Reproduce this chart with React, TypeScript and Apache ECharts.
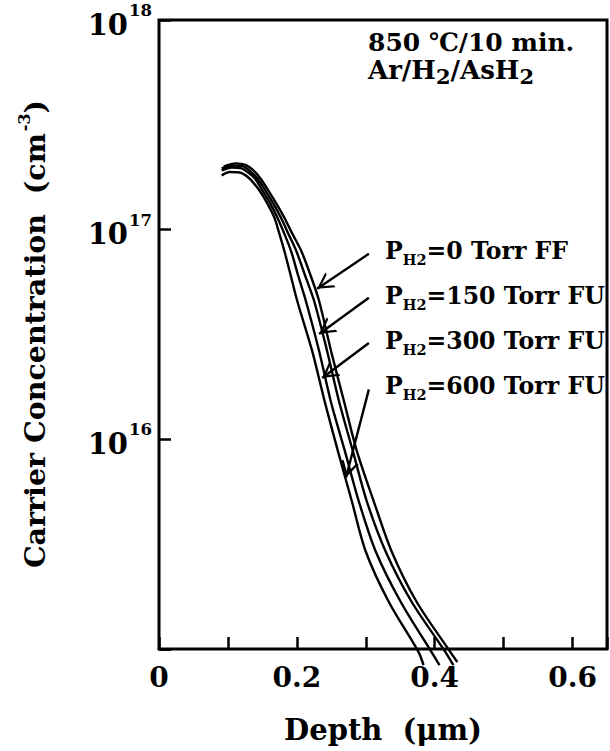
import React, { useEffect, useRef } from "react";
import * as echarts from "echarts";

const SERIF = '"DejaVu Serif", "Liberation Serif", serif';

// Axis tick labels
const depthTickLabels = ["0", "0.2", "0.4", "0.6"];
const decadeExponents = [16, 17, 18];

// Growth conditions of the four samples
const hydrogenPressures = [0, 150, 300, 600];
const treatmentCodes = ["FF", "FU", "FU", "FU"];

// Carrier profiles: [depth (µm), concentration (cm^-3)]
const profileP0: [number, number][] = [
  [0.0938, 2.0e17], [0.1111, 2.07e17], [0.1255, 2.035e17], [0.1371, 1.916e17],
  [0.1472, 1.754e17], [0.1587, 1.537e17], [0.1703, 1.332e17], [0.1818, 1.142e17],
  [0.1934, 9.57e16], [0.2063, 7.93e16], [0.2201, 6.03e16], [0.2323, 4.57e16],
  [0.2496, 2.64e16], [0.2684, 1.52e16], [0.2872, 8.76e15], [0.3117, 5.05e15],
  [0.3377, 2.91e15], [0.3737, 1.68e15], [0.4228, 9.67e14], [0.4329, 8.67e14],
];
const profileP150: [number, number][] = [
  [0.0909, 1.958e17], [0.1082, 2.024e17], [0.1227, 2.002e17], [0.1342, 1.874e17],
  [0.1429, 1.754e17], [0.1544, 1.537e17], [0.1659, 1.332e17], [0.1768, 1.142e17],
  [0.1876, 9.57e16], [0.1991, 7.93e16], [0.2121, 6.03e16], [0.2251, 4.57e16],
  [0.2439, 2.64e16], [0.2612, 1.52e16], [0.2814, 8.76e15], [0.3016, 5.05e15],
  [0.329, 2.91e15], [0.3665, 1.68e15], [0.4156, 9.67e14], [0.4271, 8.38e14],
];
const profileP300: [number, number][] = [
  [0.0909, 1.916e17], [0.1053, 1.98e17], [0.1198, 1.958e17], [0.1313, 1.853e17],
  [0.1392, 1.754e17], [0.1501, 1.537e17], [0.1616, 1.332e17], [0.1717, 1.142e17],
  [0.1818, 9.57e16], [0.1915, 7.93e16], [0.202, 6.03e16], [0.2131, 4.57e16],
  [0.2323, 2.64e16], [0.2492, 1.52e16], [0.2698, 8.76e15], [0.29, 5.05e15],
  [0.3146, 2.91e15], [0.3506, 1.68e15], [0.3954, 9.67e14], [0.4069, 8.38e14],
];
const profileP600: [number, number][] = [
  [0.0909, 1.813e17], [0.1025, 1.884e17], [0.1169, 1.874e17], [0.1313, 1.754e17],
  [0.1457, 1.537e17], [0.1573, 1.332e17], [0.1674, 1.142e17], [0.1746, 9.57e16],
  [0.1818, 7.93e16], [0.1912, 6.03e16], [0.2006, 4.57e16], [0.2222, 2.64e16],
  [0.2403, 1.52e16], [0.2597, 8.76e15], [0.2799, 5.05e15], [0.3001, 2.91e15],
  [0.3333, 1.68e15], [0.3766, 9.67e14], [0.3838, 8.38e14],
];

// Pointer arrows: [fromDepth, fromConc, toDepth, toConc]
const arrowPointers: [number, number, number, number][] = [
  [0.3045, 7.67e16, 0.2294, 5.22e16],
  [0.3045, 4.73e16, 0.2323, 3.18e16],
  [0.3045, 2.88e16, 0.2367, 1.96e16],
  [0.3045, 1.73e16, 0.2713, 6.58e15],
];

// Open chevron arrow head, tip placed at the symbol centre
const OPEN_ARROW =
  "path://M50,-100 M50,0 L100,100 L86,100 L50,28 L14,100 L0,100 Z";

export default function App() {
  const ref = useRef<HTMLDivElement>(null);

  useEffect(() => {
    const chart = echarts.init(ref.current!, null, { renderer: "svg" });
    const profiles = [profileP0, profileP150, profileP300, profileP600];

    const bold = { fontFamily: SERIF, fontWeight: "bold" as const, fill: "#000" };

    const pressureLabels = hydrogenPressures.map((p, i) => ({
      type: "text",
      x: 385,
      y: 253 + 45 * i,
      silent: true,
      style: {
        text: `{m|P}{s|H2}{m|=${p} Torr ${treatmentCodes[i]}}`,
        align: "left",
        verticalAlign: "middle",
        ...bold,
        rich: {
          m: { ...bold, fontSize: 23.6, lineHeight: 28, verticalAlign: "top" },
          s: { ...bold, fontSize: 14.5, lineHeight: 28, verticalAlign: "top", padding: [13, 0, 0, 0] },
        },
      },
    }));

    const option = {
      animation: false,
      backgroundColor: "#fff",
      grid: {
        left: 159,
        top: 20,
        width: 449,
        height: 629,
        show: true,
        borderColor: "#000",
        borderWidth: 3,
      },
      xAxis: {
        type: "value",
        min: 0,
        max: 0.65,
        interval: 0.1,
        axisLine: { show: false },
        splitLine: { show: false },
        axisTick: { inside: true, length: 12, lineStyle: { color: "#000", width: 2.5 } },
        axisLabel: {
          margin: 14,
          color: "#000",
          fontFamily: SERIF,
          fontWeight: "bold",
          fontSize: 28,
          formatter: (v: number) => {
            const i = Math.round(v / 0.2);
            return Math.abs(v - i * 0.2) < 1e-6 ? depthTickLabels[i] ?? "" : "";
          },
        },
        name: "Depth  (\u03bcm)",
        nameLocation: "middle",
        nameGap: 66,
        nameTextStyle: { color: "#000", fontFamily: SERIF, fontWeight: "bold", fontSize: 29 },
      },
      yAxis: {
        type: "log",
        logBase: 10,
        min: 1e15,
        max: 1e18,
        axisLine: { show: false },
        splitLine: { show: false },
        minorTick: { show: false },
        axisTick: { inside: true, length: 12, lineStyle: { color: "#000", width: 2.5 } },
        axisLabel: {
          margin: 7,
          color: "#000",
          formatter: (v: number) => {
            const e = Math.round(Math.log10(v));
            return decadeExponents.includes(e) ? `{b|10}{s|${e}}` : "";
          },
          rich: {
            b: { color: "#000", fontFamily: SERIF, fontWeight: "bold", fontSize: 29, lineHeight: 36, verticalAlign: "top", padding: [8, 0, 0, 0] },
            s: { color: "#000", fontFamily: SERIF, fontWeight: "bold", fontSize: 16.5, lineHeight: 36, verticalAlign: "top", padding: [0, 0, 0, 1] },
          },
        },
      },
      series: profiles.map((d, i) => ({
        type: "line",
        name: `PH2=${hydrogenPressures[i]} Torr ${treatmentCodes[i]}`,
        data: d,
        smooth: 0.3,
        symbol: "none",
        clip: false,
        silent: true,
        lineStyle: { color: "#000", width: 2.4 },
        markLine:
          i === 0
            ? {
                silent: true,
                symbol: ["none", OPEN_ARROW],
                symbolSize: [18, 32],
                label: { show: false },
                lineStyle: { color: "#000", width: 2.4, type: "solid" },
                emphasis: { disabled: true },
                data: arrowPointers.map(([x1, y1, x2, y2]) => [
                  { coord: [x1, y1] },
                  { coord: [x2, y2] },
                ]),
              }
            : undefined,
      })),
      graphic: [
        {
          // vertical axis title, centred on the plot height
          type: "text",
          x: 34,
          y: 334,
          rotation: Math.PI / 2,
          silent: true,
          style: {
            text: "{t|Carrier Concentration  (cm}{s|-3}{t|)}",
            align: "center",
            verticalAlign: "middle",
            ...bold,
            rich: {
              t: { ...bold, fontSize: 28.5, lineHeight: 36, verticalAlign: "top", padding: [4, 0, 0, 0] },
              s: { ...bold, fontSize: 16, lineHeight: 36, verticalAlign: "top", padding: [0, 0, 0, 2] },
            },
          },
        },
        {
          type: "text",
          x: 368,
          y: 42,
          silent: true,
          style: {
            text: "850 \u2103/10 min.",
            align: "left",
            verticalAlign: "middle",
            ...bold,
            fontSize: 25,
          },
        },
        {
          type: "text",
          x: 368,
          y: 73,
          silent: true,
          style: {
            text: "{m|Ar/H}{d|2}{m|/AsH}{d|2}",
            align: "left",
            verticalAlign: "middle",
            ...bold,
            rich: {
              m: { ...bold, fontSize: 26, lineHeight: 32, verticalAlign: "top" },
              d: { ...bold, fontSize: 21, lineHeight: 32, verticalAlign: "top", padding: [9, 0, 0, 0] },
            },
          },
        },
        ...pressureLabels,
      ],
    };

    chart.setOption(option as any);
    return () => chart.dispose();
  }, []);

  return (
    <div
      ref={ref}
      style={{ position: "fixed", left: 0, top: 0, width: 610, height: 751, background: "#fff" }}
    />
  );
}
